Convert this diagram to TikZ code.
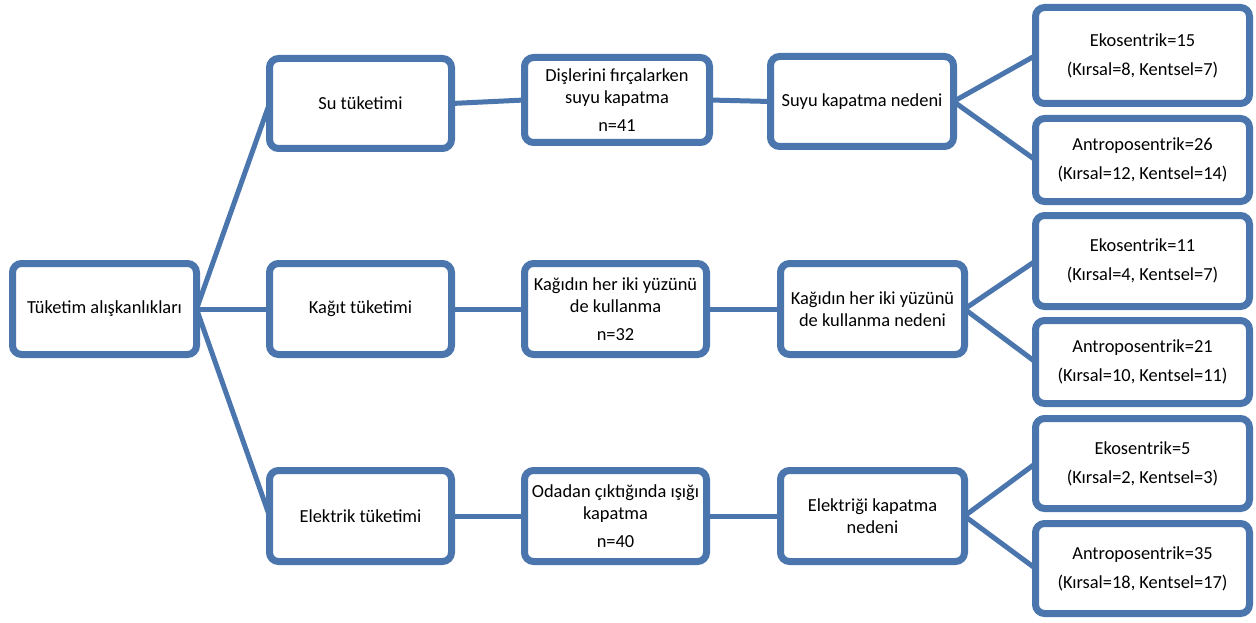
\documentclass[tikz,border=0pt]{standalone}
\usepackage{fontspec}
\setmainfont{Carlito}
\usetikzlibrary{shadows}
\definecolor{bord}{HTML}{4A76AD}
\pgfdeclarelayer{bg}
\pgfsetlayers{bg,main}
\tikzset{
  box/.style={draw=bord, line width=7pt, rounded corners=9pt, fill=white,
    align=center, inner sep=0pt, outer sep=0pt,
    font=\fontsize{18.4}{22}\selectfont,
    drop shadow={shadow xshift=1.5pt, shadow yshift=-2.5pt, opacity=0.22, fill=black}},
  link/.style={draw=bord, line width=5pt}
}
\begin{document}
\begin{tikzpicture}[x=1pt,y=-1pt]
\useasboundingbox (0,0) rectangle (1256,623);
% column 0
\node[box, minimum width=184pt, minimum height=91pt] (root) at (104.5,309) {Tüketim alışkanlıkları};
% column 1
\node[box, minimum width=182pt, minimum height=90pt] (su) at (360.5,103.5) {Su tüketimi};
\node[box, minimum width=182pt, minimum height=91pt] (kagit) at (360.5,309) {Kağıt tüketimi};
\node[box, minimum width=182pt, minimum height=91pt] (elek) at (360.5,516) {Elektrik tüketimi};
% column 2
\node[box, minimum width=185pt, minimum height=85pt] (m1) at (617,100) {Dişlerini fırçalarken\\suyu kapatma\\[6pt]n=41};
\node[box, minimum width=182pt, minimum height=91pt] (m2) at (615.5,309) {Kağıdın her iki yüzünü\\de kullanma\\[6pt]n=32};
\node[box, minimum width=182pt, minimum height=91pt] (m3) at (615.5,516) {Odadan çıktığında ışığı\\kapatma\\[6pt]n=40};
% column 3
\node[box, minimum width=183pt, minimum height=90pt] (r1) at (862,101.5) {Suyu kapatma nedeni};
\node[box, minimum width=184pt, minimum height=91pt] (r2) at (872.5,309) {Kağıdın her iki yüzünü\\de kullanma nedeni};
\node[box, minimum width=184pt, minimum height=91pt] (r3) at (872.5,516) {Elektriği kapatma\\nedeni};
% column 4
\node[box, minimum width=214pt, minimum height=96pt] (e1) at (1142.5,55.5) {Ekosentrik=15\\[7pt](Kırsal=8, Kentsel=7)};
\node[box, minimum width=214pt, minimum height=83pt] (a1) at (1142.5,160) {Antroposentrik=26\\[7pt](Kırsal=12, Kentsel=14)};
\node[box, minimum width=214pt, minimum height=91pt] (e2) at (1142.5,261) {Ekosentrik=11\\[7pt](Kırsal=4, Kentsel=7)};
\node[box, minimum width=214pt, minimum height=83pt] (a2) at (1142.5,362) {Antroposentrik=21\\[7pt](Kırsal=10, Kentsel=11)};
\node[box, minimum width=214pt, minimum height=90pt] (e3) at (1142.5,463.5) {Ekosentrik=5\\[7pt](Kırsal=2, Kentsel=3)};
\node[box, minimum width=214pt, minimum height=90pt] (a3) at (1142.5,568.5) {Antroposentrik=35\\[7pt](Kırsal=18, Kentsel=17)};
\begin{pgfonlayer}{bg}
\draw[link] (root.east) -- (su.west);
\draw[link] (root.east) -- (kagit.west);
\draw[link] (root.east) -- (elek.west);
\draw[link] (su.east) -- (m1.west);
\draw[link] (kagit.east) -- (m2.west);
\draw[link] (elek.east) -- (m3.west);
\draw[link] (m1.east) -- (r1.west);
\draw[link] (m2.east) -- (r2.west);
\draw[link] (m3.east) -- (r3.west);
\draw[link] (r1.east) -- (e1.west);
\draw[link] (r1.east) -- (a1.west);
\draw[link] (r2.east) -- (e2.west);
\draw[link] (r2.east) -- (a2.west);
\draw[link] (r3.east) -- (e3.west);
\draw[link] (r3.east) -- (a3.west);
\end{pgfonlayer}
\end{tikzpicture}
\end{document}
